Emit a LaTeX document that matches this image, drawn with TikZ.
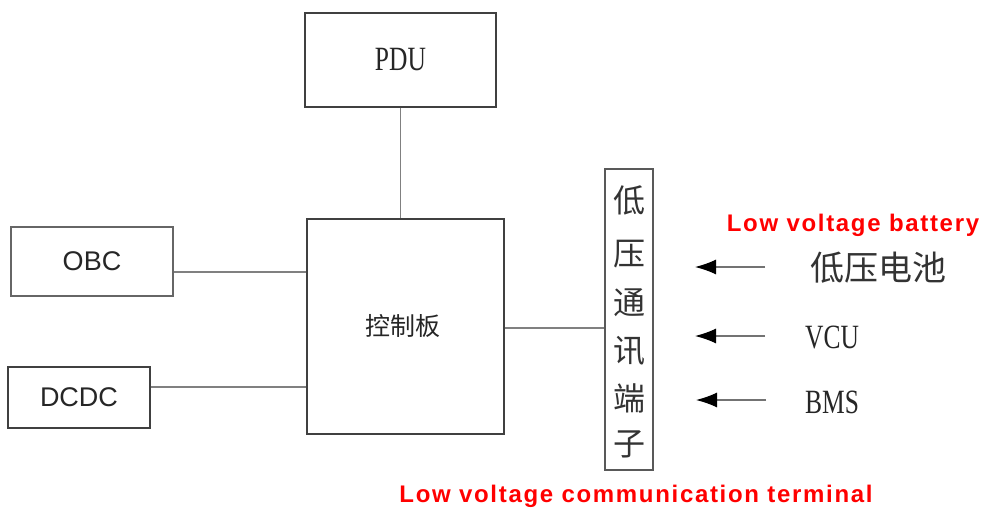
\documentclass[tikz,border=0pt]{standalone}
\usepackage{fontspec}
\usepackage{graphicx}
\setmainfont{Liberation Serif}
\setsansfont{Liberation Sans}
\newfontfamily\cjk{Noto Sans CJK SC}
\newfontfamily\redfont[LetterSpace=7]{Liberation Sans Bold}
\usetikzlibrary{arrows.meta}
\begin{document}
\begin{tikzpicture}[x=1pt,y=-1pt,
  blk/.style={draw=black!75, line width=1.2pt, inner sep=0pt},
  wire/.style={draw=black!50, line width=1.2pt},
  inarrow/.style={draw=black!55, line width=1.2pt, -{Latex[length=21pt,width=15pt,color=black]}},
  redlbl/.style={text=red, font=\redfont\fontsize{24}{27}\selectfont},
  sertext/.style={font=\rmfamily\fontsize{34}{38}\selectfont, text=black!85},
  cjktext/.style={font=\cjk\fontsize{32}{36}\selectfont, text=black!80}
]
\useasboundingbox (0,0) rectangle (983,511);
\fill[white] (0,0) rectangle (983,511);

% boxes
\node[blk, minimum width=191pt, minimum height=94pt] (pdu) at (400.5,60) {};
\node[sertext] at (pdu.center) {\scalebox{0.75}[1]{PDU}};
\node[blk, minimum width=197pt, minimum height=215pt] (ctrl) at (405.5,326.5) {};
\node[font=\cjk\fontsize{25}{28}\selectfont, text=black!85] at (403,326) {控制板};
\node[blk, draw=black!60, minimum width=162pt, minimum height=69pt] (obc) at (92,261.5) {};
\node[font=\sffamily\fontsize{27}{30}\selectfont, text=black!85] at (obc.center) {OBC};
\node[blk, minimum width=142pt, minimum height=61pt] (dcdc) at (79,397.5) {};
\node[font=\sffamily\fontsize{27}{30}\selectfont, text=black!85] at (dcdc.center) {DCDC};
\node[blk, draw=black!65, minimum width=48pt, minimum height=301pt] (term) at (629,319.5) {};
\foreach \ch/\yy in {低/200,压/254,通/303,讯/351,端/398,子/444}
  \node[cjktext] at (629,\yy) {\ch};

% wires
\draw[wire] (pdu.south) -- (pdu.south |- ctrl.north);
\draw[wire] (obc.east |- 0,272) -- (ctrl.west |- 0,272);
\draw[wire] (dcdc.east |- 0,387) -- (ctrl.west |- 0,387);
\draw[wire] (ctrl.east |- 0,328) -- (term.west |- 0,328);

% inputs
\node[cjktext, font=\cjk\fontsize{34}{38}\selectfont, anchor=west, inner sep=0pt] (bat) at (810,268) {低压电池};
\node[sertext, anchor=west, inner sep=0pt] (vcu) at (805,337) {\scalebox{0.75}[1]{VCU}};
\node[sertext, anchor=west, inner sep=0pt] (bms) at (805,402) {\scalebox{0.75}[1]{BMS}};
\coordinate (a1s) at (765,267); \coordinate (a1e) at (695,267);
\coordinate (a2s) at (765,336); \coordinate (a2e) at (695,336);
\coordinate (a3s) at (766,400); \coordinate (a3e) at (696,400);
\draw[inarrow] (a1s) -- (a1e);
\draw[inarrow] (a2s) -- (a2e);
\draw[inarrow] (a3s) -- (a3e);

% red labels
\node[redlbl] (lvb) at (853,225) {Low voltage battery};
\node[redlbl] (lvct) at (636,496) {Low voltage communication terminal};
\end{tikzpicture}
\end{document}
